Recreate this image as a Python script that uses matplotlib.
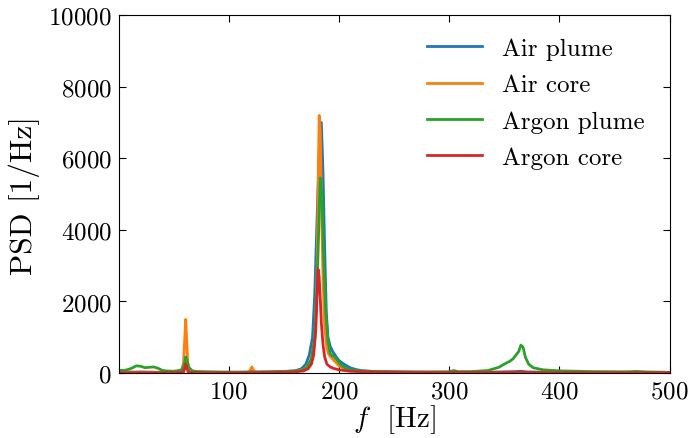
import matplotlib
matplotlib.use('Agg')
import matplotlib.pyplot as plt

plt.rcParams['font.family'] = 'serif'
plt.rcParams['font.serif'] = ['cmr10']
plt.rcParams['mathtext.fontset'] = 'cm'
plt.rcParams['axes.unicode_minus'] = False
plt.rcParams['axes.formatter.use_mathtext'] = True

# Air plume
f_air_plume = [0, 10, 20, 30, 40, 50, 56, 59, 61, 63, 66, 80, 100, 118, 121, 124, 140, 160, 166,
               170, 173, 176, 178, 180, 182, 184, 185.5, 187, 188.5, 190, 192, 194, 196, 198,
               200, 203, 206, 210, 215, 220, 230, 250, 280, 300, 340, 360, 365, 370, 400, 450, 500]
psd_air_plume = [30, 25, 30, 25, 20, 25, 40, 150, 400, 120, 30, 20, 15, 25, 90, 25, 30, 60, 120,
                 250, 500, 1000, 2200, 4200, 6200, 7000, 5600, 3500, 1700, 1000, 750, 620, 520, 430,
                 350, 280, 220, 150, 100, 70, 45, 30, 20, 20, 25, 40, 50, 30, 20, 15, 10]

# Air core
f_air_core = [0, 10, 20, 30, 40, 50, 57, 59, 60, 61, 62, 63, 65, 80, 100, 118, 120, 121, 122, 124,
              140, 160, 168, 172, 175, 178, 180, 181, 182, 183, 184, 185.5, 187, 189, 191, 194,
              197, 200, 205, 210, 220, 240, 280, 300, 360, 400, 450, 500]
psd_air_core = [20, 20, 20, 20, 15, 20, 40, 300, 900, 1500, 800, 200, 40, 15, 10, 20, 110, 170, 100, 20,
                20, 40, 100, 200, 400, 900, 2500, 4800, 7200, 6800, 5000, 2600, 1300, 700, 500, 400,
                300, 200, 120, 80, 40, 25, 15, 15, 20, 15, 10, 10]

# Argon plume
f_argon_plume = [0, 5, 10, 13, 16, 20, 24, 28, 32, 36, 40, 45, 50, 55, 58, 60, 61, 62, 64, 67, 72,
                 90, 110, 130, 150, 165, 171, 175, 178, 180, 182, 183, 184.5, 186, 188, 190, 192,
                 194, 196, 199, 202, 206, 211, 220, 240, 270, 300, 304, 308, 320, 335, 345, 350,
                 355, 358, 361, 363, 365, 367, 369, 372, 376, 385, 400, 430, 460, 470, 480, 500]
psd_argon_plume = [80, 70, 110, 150, 200, 190, 150, 160, 170, 130, 70, 55, 50, 70, 100, 300, 450, 350, 150, 60, 40,
                   30, 25, 30, 40, 70, 150, 400, 1000, 2300, 4400, 5450, 5000, 3300, 1700, 900, 550,
                   480, 450, 330, 220, 140, 90, 55, 35, 30, 35, 70, 40, 40, 70, 160, 250,
                   330, 400, 520, 600, 780, 720, 450, 250, 150, 90, 60, 40, 35, 45, 30, 20]

# Argon core
f_argon_core = [0, 20, 40, 55, 59, 60, 61, 62, 63, 65, 80, 120, 160, 168, 172, 175, 177, 179, 180, 181,
                182, 183, 184, 185.5, 187, 189, 192, 195, 200, 210, 230, 260, 300, 360, 365, 370, 400, 450, 500]
psd_argon_core = [10, 10, 10, 15, 30, 120, 250, 150, 40, 15, 10, 10, 30, 60, 120, 250, 500, 1200, 2100, 2900,
                  2700, 2100, 1400, 800, 450, 250, 170, 130, 90, 50, 30, 20, 15, 20, 30, 20, 10, 10, 10]

fig, ax = plt.subplots(figsize=(6.89, 4.39), dpi=100)
fig.subplots_adjust(left=0.172, right=0.972, top=0.963, bottom=0.148)

ax.plot(f_air_plume, psd_air_plume, color='#1f77b4', lw=2, label='Air plume')
ax.plot(f_air_core, psd_air_core, color='#ff7f0e', lw=2, label='Air core')
ax.plot(f_argon_plume, psd_argon_plume, color='#2ca02c', lw=2, label='Argon plume')
ax.plot(f_argon_core, psd_argon_core, color='#d62728', lw=2, label='Argon core')

ax.set_xlim(0, 500)
ax.set_ylim(0, 10000)
ax.set_xticks([100, 200, 300, 400, 500])
ax.set_yticks([0, 2000, 4000, 6000, 8000, 10000])
ax.tick_params(direction='in', top=True, right=True, labelsize=18, length=5, pad=5)
ax.set_xlabel(r'$f$  [Hz]', fontsize=21, labelpad=0)
ax.set_ylabel('PSD [1/Hz]', fontsize=22.5, labelpad=6)
ax.legend(frameon=False, fontsize=18, loc='upper right', handlelength=2.2,
          handletextpad=0.8, bbox_to_anchor=(0.995, 1.0), labelspacing=0.55)

fig.savefig('out.png', dpi=100)
